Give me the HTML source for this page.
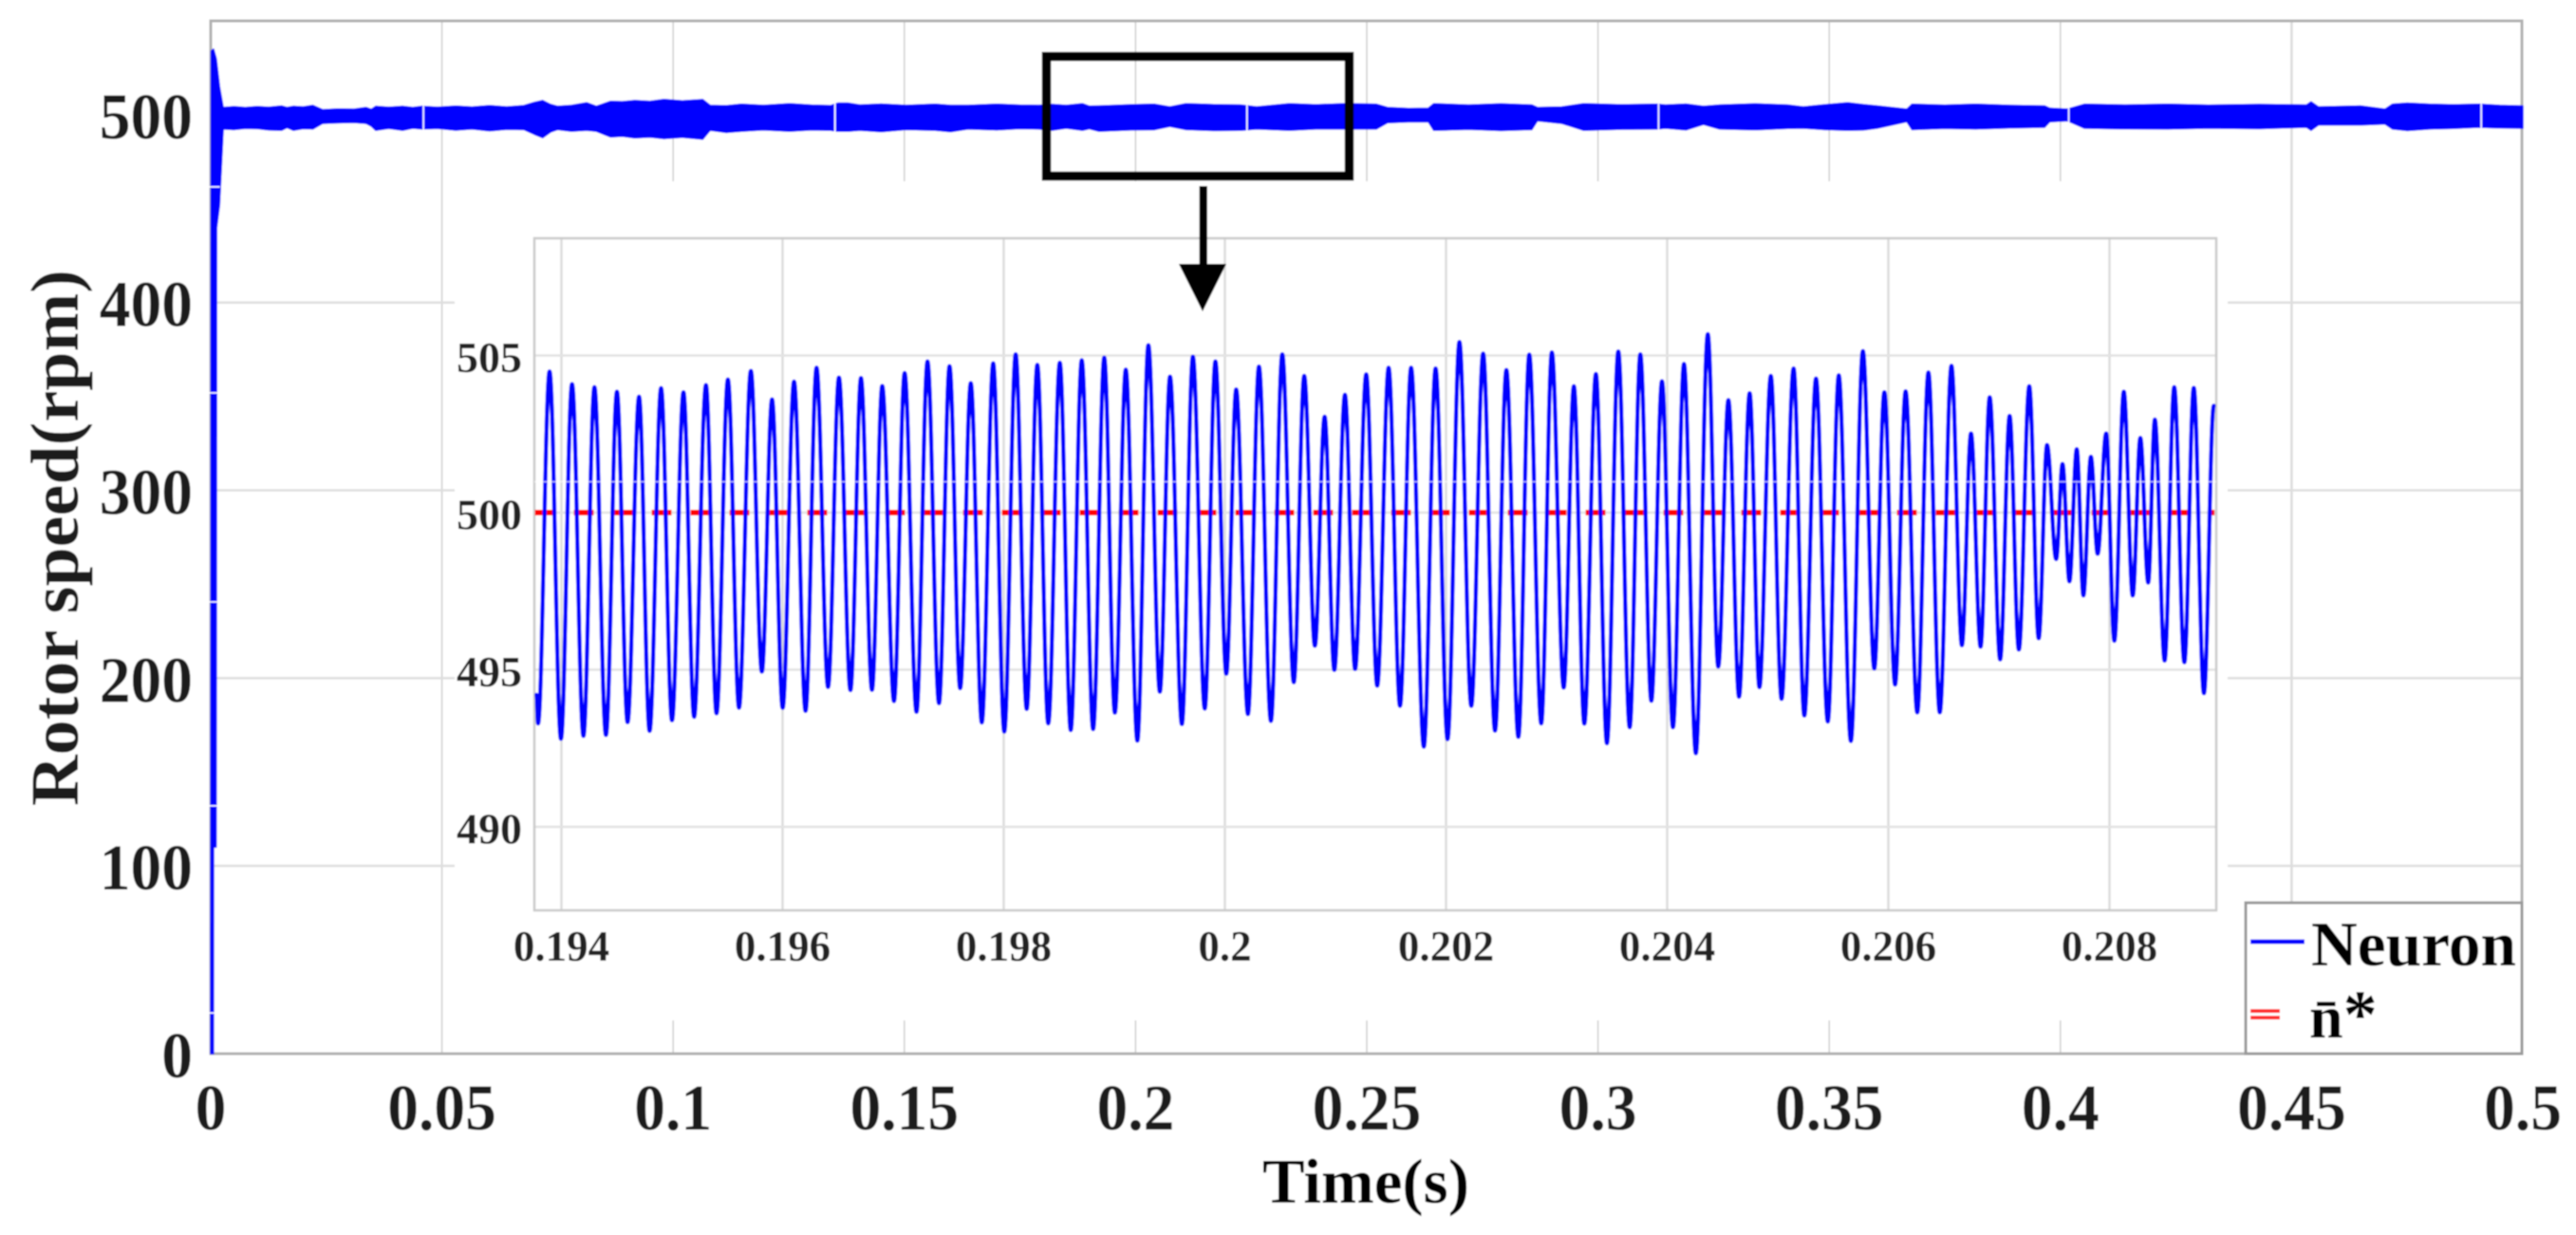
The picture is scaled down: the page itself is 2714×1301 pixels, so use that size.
<!DOCTYPE html>
<html lang="en">
<head>
<meta charset="utf-8">
<title>Rotor speed chart</title>
<style>
html,body{margin:0;padding:0;background:#fff;width:2714px;height:1301px;overflow:hidden}
svg{display:block}
text{font-family:"Liberation Serif","DejaVu Serif",serif;font-weight:bold}
</style>
</head>
<body>
<svg id="chart" xmlns="http://www.w3.org/2000/svg" width="2714" height="1301" viewBox="0 0 2714 1301">
  <defs>
    <filter id="soft" filterUnits="userSpaceOnUse" x="0" y="0" width="2714" height="1301">
      <feGaussianBlur stdDeviation="0.9"/>
    </filter>
  </defs>
  <g filter="url(#soft)">
    <rect x="0" y="0" width="2714" height="1301" fill="#fff"/>
    <g id="mainGrid"></g>
    <rect x="222" y="22" width="2435" height="1088" fill="none" stroke="#b0b0b0" stroke-width="3"/>
    <g id="mainSeries"></g>
    <g id="mainLabels"></g>
    <text transform="translate(82,849) rotate(-90)" font-size="72" fill="#1a1a1a" textLength="565" lengthAdjust="spacingAndGlyphs">Rotor speed(rpm)</text>
    <text x="1330" y="1267" font-size="67" fill="#000" textLength="218" lengthAdjust="spacingAndGlyphs">Time(s)</text>

    <rect x="479" y="191" width="1868" height="884" fill="#fff"/>
    <g id="insetGrid"></g>
    <rect x="563" y="251" width="1772" height="708" fill="none" stroke="#cacaca" stroke-width="2.5"/>
    <g id="insetSeries"></g>
    <g id="insetLabels"></g>

    <rect x="1102.5" y="59.5" width="319" height="126" fill="none" stroke="#000" stroke-width="9.5"/>
    <rect x="1263.5" y="196" width="8.5" height="84" fill="#000"/>
    <polygon points="1242,278 1292,278 1267,328" fill="#000"/>

    <g>
      <rect x="2366" y="951" width="291" height="159" fill="#fff" stroke="#999" stroke-width="3"/>
      <line x1="2371" y1="992" x2="2428" y2="992" stroke="#0000ff" stroke-width="5"/>
      <text x="2435" y="1017" font-size="67" fill="#000" textLength="216" lengthAdjust="spacingAndGlyphs">Neuron</text>
      <line x1="2371" y1="1065" x2="2402" y2="1065" stroke="#ff2a2a" stroke-width="4"/>
      <line x1="2371" y1="1072" x2="2402" y2="1072" stroke="#ff2a2a" stroke-width="4"/>
      <text x="2433" y="1093" font-size="64" fill="#000">n&#772;<tspan font-size="72">*</tspan></text>
    </g>
  </g>
</svg>
<script>
// Main plot data
const mainXTickLabels = ['0','0.05','0.1','0.15','0.2','0.25','0.3','0.35','0.4','0.45','0.5'];
const mainYTickLabels = ['0','100','200','300','400','500'];
const referenceSpeed = [500, 500];
const referenceTimes = [0, 0.5];
// Envelope of the fast ripple in the full-time trace (s, rpm, rpm)
const mainBandTimes = [
0,.0001,.0006,.00061,.0012,.0013,.0019,.0027,.0050,.0075,
.0101,.0125,.0153,.0165,.0179,.0200,.0221,.0242,.0275,.0310,
.0336,.0347,.0357,.0385,.0415,.0437,.0457,.0490,.0530,.0565,
.0603,.0640,.0677,.0700,.0718,.0735,.0750,.0780,.0813,.0834,
.0865,.0890,.0917,.0950,.0980,.1020,.1064,.1080,.1115,.1148,
.1195,.1252,.1300,.1341,.1357,.1378,.1404,.1450,.1504,.1567,
.1600,.1638,.1700,.1750,.1791,.1820,.1850,.1885,.1900,.1921,
.1990,.2040,.2074,.2109,.2170,.2227,.2262,.2333,.2390,.2451,
.2521,.2545,.2590,.2633,.2645,.2720,.2790,.2857,.2869,.2922,
.2969,.3050,.3128,.3146,.3190,.3228,.3263,.3340,.3410,.3444,
.3490,.3540,.3575,.3604,.3668,.3679,.3750,.3817,.3890,.3966,
.3977,.4015,.4052,.4140,.4233,.4320,.4430,.4532,.4542,.4558,
.4649,.4702,.4718,.4750,.4798,.4850,.4905,.4950,.5];
const mainBandUpper = [
0,534,535,535,530,528,515,503.9,504.3,503.9,
504.4,504.0,504.7,503.9,504.5,504.2,505.0,502.7,503.1,503.0,
503.9,502.9,504.5,504.0,504.5,503.9,504.5,504.0,504.6,504.1,
504.9,504.2,504.9,506.6,507.6,505.5,504.5,505.0,506.4,504.5,
507.2,507.0,507.6,507.2,508.2,507.4,508.1,505.0,504.8,505.6,
505.0,505.9,505.1,504.9,506.2,506.2,505.2,505.7,505.0,505.6,
505.0,505.0,505.6,505.1,505.0,505.5,505.0,505.9,504.6,504.7,
505.3,505.6,504.2,505.9,505.4,505.2,504.2,505.9,505.3,505.9,
505.6,503.9,503.4,503.5,505.9,505.2,505.8,505.2,503.9,504.2,
505.9,505.3,505.6,505.2,505.7,504.5,505.2,505.8,505.2,504.2,
505.3,506.4,505.4,504.7,503.0,505.6,505.1,505.6,505.0,504.7,
503.5,503.0,505.6,505.2,505.6,505.1,505.5,505.2,506.9,504.2,
504.7,503.0,505.6,506.2,505.6,505.3,505.6,505.0,504.7];
const mainBandLower = [
0,0,0,110,110,440,452,492.4,492.1,492.7,
492.6,491.9,491.7,493.2,491.7,492.6,492.4,495.4,495.7,495.9,
495.4,494.0,491.7,492.8,491.7,492.9,492.4,492.8,491.8,492.4,
491.4,492.2,492.1,489.6,487.8,490.8,492.1,491.2,491.7,491.2,
488.2,488.6,487.7,488.1,487.3,488.0,487.0,491.7,490.6,491.2,
491.9,491.2,491.9,491.7,491.2,491.2,491.7,491.0,492.1,491.7,
491.0,492.4,491.9,492.6,492.4,491.8,492.9,491.7,492.5,491.2,
491.9,492.0,493.8,492.1,491.6,491.7,492.4,491.7,492.4,492.4,
492.4,495.8,496.2,496.3,491.7,492.2,491.6,492.1,496.8,495.4,
491.7,492.3,492.4,492.9,491.9,494.9,492.4,492.0,492.8,492.9,
492.1,491.7,491.9,492.9,496.3,492.1,492.7,492.4,493.0,493.4,
496.3,496.8,492.9,492.5,492.4,492.9,492.6,493.4,491.7,494.6,
494.6,495.1,492.4,491.6,492.4,492.8,493.4,493.0,492.9];
const bandGapTimes = [0.046,0.135,0.2241,0.3131,0.4018,0.491];
const startupGapSpeeds = [461.6,351.9,240.6,132,21.7];

// Inset data
const insetXTickLabels = ['0.194','0.196','0.198','0.2','0.202','0.204','0.206','0.208'];
const insetYTickLabels = ['490','495','500','505'];
const insetReferenceTimesMs = [193.76, 208.95];
const insetReferenceSpeed = [500, 500];
const insetSeamSpeed = 500.98;
// Successive ripple extrema in the zoomed trace
const insetTimesMs = [193.775,
193.789,193.893,193.996,194.096,194.199,194.299,194.403,194.502,194.598,194.702,194.797,194.901,195.000,195.104,195.200,195.307,195.403,195.506,195.606,195.713,195.813,195.905,196.001,196.104,196.208,196.307,196.411,196.510,196.614,196.709,196.809,196.901,197.008,197.104,197.211,197.311,197.415,197.510,197.606,197.702,197.802,197.905,198.005,198.108,198.208,198.304,198.403,198.507,198.606,198.706,198.809,198.909,199.005,199.104,
199.209,199.308,199.412,199.504,199.611,199.711,199.818,199.914,200.013,200.102,200.209,200.308,200.416,200.519,200.623,200.718,200.814,200.902,200.990,201.086,201.178,201.278,201.378,201.481,201.584,201.684,201.799,201.906,202.014,202.121,202.228,202.336,202.443,202.546,202.654,202.753,202.861,202.957,203.064,203.156,203.251,203.355,203.455,203.558,203.661,203.757,203.857,203.953,204.052,204.152,204.259,204.367,204.462,204.554,204.650,204.746,204.834,204.937,
205.034,205.143,205.240,205.346,205.452,205.552,205.661,205.770,205.873,205.964,206.061,206.156,206.262,206.362,206.465,206.571,206.665,206.748,206.834,206.917,207.011,207.097,207.180,207.275,207.360,207.435,207.518,207.575,207.638,207.704,207.764,207.832,207.893,207.970,208.044,208.130,208.210,208.279,208.350,208.410,208.499,208.585,208.677,208.762,208.854,208.943];
const insetSpeeds = [494.2,
493.29,504.49,492.80,504.09,492.89,503.99,492.92,503.85,493.33,503.69,493.05,503.96,493.39,503.83,493.50,504.06,493.61,504.24,493.79,504.51,494.94,503.60,493.79,504.17,493.69,504.61,494.45,504.30,494.35,504.28,494.36,504.03,494.00,504.44,493.66,504.81,493.93,504.66,494.41,504.12,493.32,504.75,493.03,505.04,493.75,504.70,493.29,504.77,493.08,504.85,493.11,504.93,493.63,504.55,
492.74,505.33,494.30,504.33,493.27,504.96,493.76,504.81,494.87,503.92,493.59,504.65,493.37,505.04,494.60,504.35,495.76,503.05,494.99,503.75,495.02,504.40,494.49,504.61,493.85,504.61,492.55,504.59,492.79,505.43,493.85,505.06,493.06,504.54,492.86,505.03,493.29,505.10,494.43,504.02,493.28,504.41,492.66,505.13,493.17,505.04,494.01,504.18,493.17,504.73,492.34,505.68,495.10,503.58,494.14,503.80,494.44,504.35,
494.07,504.59,493.54,504.27,493.35,504.37,492.73,505.14,495.04,503.83,494.53,503.86,493.64,504.46,493.64,504.67,495.78,502.52,495.73,503.67,495.33,503.08,495.64,504.02,496.00,502.15,498.52,501.55,497.81,502.02,497.36,501.78,498.69,502.52,495.92,503.85,497.36,502.38,497.77,502.96,495.29,503.99,495.24,503.97,494.25,503.40];

// Axis functions
function mainX(t){ return 222 + t / 0.5 * 2436; }
function mainY(v){ return 1110 - v / 550 * 1088; }
function insetX(ms){ return 591.5 + (ms - 194) * 116.5; }
function insetY(v){ return 540 - (v - 500) * 33.1; }

const NS = 'http://www.w3.org/2000/svg';
function make(tag, parentId, attrs, content){
  const el = document.createElementNS(NS, tag);
  for (const k in attrs) el.setAttribute(k, attrs[k]);
  if (content !== undefined) el.textContent = content;
  document.getElementById(parentId).appendChild(el);
  return el;
}

// Main grid and tick labels
mainXTickLabels.forEach(function(label){
  const t = parseFloat(label);
  const x = mainX(t);
  if (t > 0 && t < 0.5) {
    const grid = make('line','mainGrid',{x1:x,y1:22,x2:x,y2:1110,stroke:t === 0.45 ? '#dcdcdc' : '#cdcdcd','stroke-width':t === 0.45 ? 2.5 : 1.5});
    
    
  }
  const tick = make('text','mainLabels',{transform:'translate(' + x + ',1190) scale(.95,1)','text-anchor':'middle','font-size':69,fill:'#1e1e1e'},label);
  
  
});
mainYTickLabels.forEach(function(label){
  const v = parseFloat(label);
  const y = mainY(v);
  if (v > 0) {
    const grid = make('line','mainGrid',{x1:222,y1:y,x2:2657,y2:y,stroke:'#dedede','stroke-width':2.5});
    
    
  }
  const tick = make('text','mainLabels',{transform:'translate(203,' + (y + 25) + ') scale(.95,1)','text-anchor':'end','font-size':69,fill:'#1e1e1e'},label);
  
  
});

// Main series
const mainRef = make('line','mainSeries',{x1:mainX(referenceTimes[0]),y1:mainY(referenceSpeed[0]),x2:mainX(referenceTimes[1]),y2:mainY(referenceSpeed[1]),stroke:'#ff0000','stroke-width':5});



let bandPath = '';
mainBandTimes.forEach(function(t, i){
  bandPath += (i ? 'L' : 'M') + mainX(t).toFixed(1) + ' ' + mainY(mainBandUpper[i]).toFixed(1);
});
for (let i = mainBandTimes.length - 1; i >= 0; i--) {
  bandPath += 'L' + mainX(mainBandTimes[i]).toFixed(1) + ' ' + mainY(mainBandLower[i]).toFixed(1);
}
const band = make('path','mainSeries',{d:bandPath + 'Z',fill:'#0000ff',stroke:'#0000ff','stroke-width':1.5,'stroke-linejoin':'round'});



bandGapTimes.forEach(function(t){
  const x = mainX(t);
  const gap = make('line','mainSeries',{x1:x,y1:mainY(512),x2:x,y2:mainY(486),stroke:'#fff','stroke-width':1.5});
  
  
});
startupGapSpeeds.forEach(function(v){
  const y = mainY(v);
  const gap = make('line','mainSeries',{x1:mainX(0) - 2,y1:y,x2:mainX(0.002),y2:y,stroke:'#fff','stroke-width':1.5});
  
  
});

// Inset grid and tick labels
insetXTickLabels.forEach(function(label){
  const ms = parseFloat(label) * 1000;
  const x = insetX(ms);
  const grid = make('line','insetGrid',{x1:x,y1:251,x2:x,y2:959,stroke:'#dcdcdc','stroke-width':2.5});
  
  
  const tick = make('text','insetLabels',{x:x,y:1012,'text-anchor':'middle','font-size':45,fill:'#222'},label);
  
  
});
insetYTickLabels.forEach(function(label){
  const v = parseFloat(label);
  const y = insetY(v);
  const grid = make('line','insetGrid',{x1:563,y1:y,x2:2335,y2:y,stroke:'#e2e2e2','stroke-width':2.5});
  
  
  const tick = make('text','insetLabels',{x:550,y:y + 17.5,'text-anchor':'end','font-size':46,fill:'#222'},label);
  
  
});

// Inset series
const insetRef = make('line','insetSeries',{x1:insetX(insetReferenceTimesMs[0]),y1:insetY(insetReferenceSpeed[0]),x2:insetX(insetReferenceTimesMs[1]),y2:insetY(insetReferenceSpeed[1]),stroke:'#ff0000','stroke-width':6,'stroke-dasharray':'21 20'});



let insetPath = 'M' + insetX(insetTimesMs[0]).toFixed(1) + ' ' + insetY(insetSpeeds[0]).toFixed(1);
for (let i = 1; i < insetTimesMs.length; i++) {
  const x0 = insetX(insetTimesMs[i - 1]);
  const x1 = insetX(insetTimesMs[i]);
  const y0 = insetY(insetSpeeds[i - 1]);
  const y1 = insetY(insetSpeeds[i]);
  const k = (x1 - x0) * 0.3642;
  insetPath += 'C' + (x0 + k).toFixed(1) + ' ' + y0.toFixed(1) + ' ' + (x1 - k).toFixed(1) + ' ' + y1.toFixed(1) + ' ' + x1.toFixed(1) + ' ' + y1.toFixed(1);
}
const insetTrace = make('path','insetSeries',{d:insetPath,fill:'none',stroke:'#0000ff','stroke-width':4.5,'stroke-linejoin':'round','stroke-linecap':'round'});



const insetSeam = make('line','insetSeries',{x1:563,y1:insetY(insetSeamSpeed),x2:2335,y2:insetY(insetSeamSpeed),stroke:'#fff','stroke-width':1.5,'stroke-opacity':0.7});


</script>
</body>
</html>
